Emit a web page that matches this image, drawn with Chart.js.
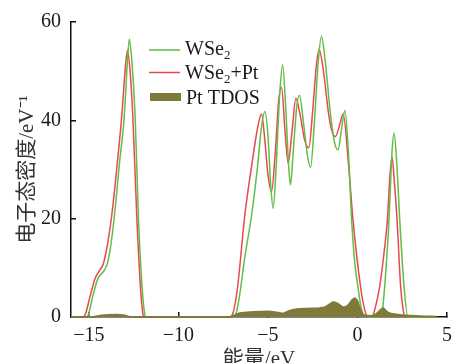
<!DOCTYPE html>
<html>
<head>
<meta charset="utf-8">
<script src="https://cdn.jsdelivr.net/npm/chart.js@4.4.0/dist/chart.umd.min.js"></script>
<style>
  html, body { margin: 0; padding: 0; background: #fff; }
  #wrap { width: 453px; height: 363px; }
</style>
</head>
<body>
<div id="wrap"><canvas id="dosChart" width="453" height="363"></canvas></div>
<script>
// energies (eV) and density of states
const wse2Energy = [-16, -15.2, -15.05, -14.8, -14.5, -14.2, -14.0, -13.8, -13.57, -13.3, -13.02, -12.85, -12.74, -12.6, -12.42, -12.24, -12.05, -11.9, -11.8,
  -7.0, -6.8, -6.6, -6.3, -5.91, -5.6, -5.35, -5.17, -5.0, -4.85, -4.71, -4.55, -4.35, -4.18, -4.0, -3.85, -3.74, -3.6, -3.4, -3.24, -3.0, -2.8, -2.62,
  -2.4, -2.2, -2.01, -1.8, -1.5, -1.25, -1.08, -0.9, -0.7, -0.5, -0.33, -0.15, 0.03, 0.2, 0.4,
  1.2, 1.35, 1.52, 1.76, 1.92, 2.04, 2.2, 2.36, 2.6, 2.82, 4.4];
const wse2Dos = [0, 0, 0.3, 4, 7.8, 9.2, 10.5, 14, 20.8, 31, 41.1, 52, 56.5, 52, 41, 20.8, 7.2, 1, 0,
  0, 0.5, 4, 12, 20.8, 30, 39, 41.8, 37, 27, 22.1, 30, 45, 51.3, 42, 31, 26.9, 33, 42.5, 45.1, 39, 33, 30.4,
  40, 51.5, 57.1, 52, 41, 35, 34.0, 38, 42.0, 33, 20, 11, 6, 2, 0,
  0, 0.5, 6.2, 19.8, 33, 37.4, 31, 19.8, 6.2, 0, 0];

const wse2PtEnergy = [-16, -15.35, -15.2, -14.95, -14.65, -14.4, -14.19, -13.95, -13.72, -13.45, -13.16, -12.98, -12.85, -12.7, -12.55, -12.33, -12.14, -12.0, -11.9,
  -7.15, -6.95, -6.7, -6.29, -5.9, -5.55, -5.36, -5.2, -5.0, -4.8, -4.6, -4.4, -4.24, -4.05, -3.87, -3.65, -3.44, -3.2, -2.95, -2.72,
  -2.5, -2.3, -2.14, -1.9, -1.6, -1.4, -1.23, -1.0, -0.8, -0.5, -0.25, 0.17, 0.4, 0.6,
  0.85, 1.0, 1.24, 1.45, 1.67, 1.82, 1.93, 2.05, 2.21, 2.41, 2.55, 2.65, 4.4];
const wse2PtDos = [0, 0, 0.5, 4, 7.9, 9.5, 10.9, 15, 20.8, 30, 41.1, 50, 54.2, 50, 41, 20.8, 7.2, 1, 0,
  0, 0.8, 6, 20.8, 31, 39, 41.3, 37, 29, 25.5, 33, 44, 46.7, 38, 31.3, 38, 44.5, 41, 36, 34.4,
  42, 51, 54.4, 50, 41, 37.5, 36.7, 39, 41.3, 31, 19.8, 6.2, 1.5, 0,
  0.3, 2, 6.2, 12, 19.8, 29, 32.6, 28, 19.8, 6.2, 1.5, 0, 0];

const ptEnergy = [-16, -14.8, -14.3, -13.5, -13.0, -12.7, -7.1, -6.9, -6.56, -5.82, -4.99, -4.5, -4.15, -3.9, -3.68, -2.84, -2.1, -1.8, -1.54, -1.35,
  -1.1, -0.8, -0.55, -0.3, -0.15, 0.0, 0.13, 0.3, 0.41, 0.78, 1.0, 1.15, 1.43, 1.6, 1.71, 2.17, 2.73, 3.5, 4.4];
const ptDos = [0, 0, 0.3, 0.45, 0.3, 0, 0, 0.3, 0.75, 1.0, 1.1, 0.9, 0.7, 1.1, 1.4, 1.7, 1.8, 2.0, 2.6, 3.0,
  2.7, 2.0, 2.3, 3.4, 3.8, 3.2, 1.8, 0.6, 0.3, 0.2, 0.5, 0.9, 1.8, 1.2, 0.9, 0.5, 0.3, 0.15, 0.05];

const xTicks = [-15, -10, -5, 0, 5];
const yTicks = [0, 20, 40, 60];
const legendLabels = ['WSe2', 'WSe2+Pt', 'Pt TDOS'];

const green = '#62bd45';
const red = '#e84850';
const olive = '#7f7a3a';
const serif = "'Liberation Serif', 'Times New Roman', 'Noto Sans CJK SC', serif";

const toPoints = (xs, ys) => xs.map((x, i) => ({ x: x, y: ys[i] }));

// legend drawn inside the plot, with subscript 2
const dosLegend = {
  id: 'dosLegend',
  afterDraw(chart) {
    const ctx = chart.ctx;
    ctx.save();
    ctx.textBaseline = 'alphabetic';
    ctx.fillStyle = '#1a1a1a';

    const writeLabel = (label, x, y) => {
      let cx = x;
      const m = label.match(/^(WSe)2(.*)$/);
      if (m) {
        ctx.font = '20px ' + serif;
        ctx.fillText(m[1], cx, y);
        cx += ctx.measureText(m[1]).width;
        ctx.font = '13px ' + serif;
        ctx.fillText('2', cx, y + 4);
        cx += ctx.measureText('2').width;
        ctx.font = '20px ' + serif;
        ctx.fillText(m[2], cx, y);
      } else {
        ctx.font = '20px ' + serif;
        ctx.fillText(label, cx, y);
      }
    };

    ctx.lineWidth = 1.5;
    ctx.strokeStyle = green;
    ctx.beginPath(); ctx.moveTo(149, 50); ctx.lineTo(180, 50); ctx.stroke();
    writeLabel(legendLabels[0], 185, 55);

    ctx.strokeStyle = red;
    ctx.beginPath(); ctx.moveTo(149, 72.5); ctx.lineTo(180, 72.5); ctx.stroke();
    writeLabel(legendLabels[1], 185, 79);

    ctx.fillStyle = olive;
    ctx.fillRect(150, 93, 31, 8);
    ctx.fillStyle = '#1a1a1a';
    writeLabel(legendLabels[2], 186, 104);
    ctx.restore();
  }
};

new Chart(document.getElementById('dosChart'), {
  type: 'line',
  data: {
    datasets: [
      {
        label: legendLabels[0],
        data: toPoints(wse2Energy, wse2Dos),
        borderColor: green,
        borderWidth: 1.5,
        pointRadius: 0,
        cubicInterpolationMode: 'monotone',
        fill: false,
        clip: false,
        order: 1
      },
      {
        label: legendLabels[1],
        data: toPoints(wse2PtEnergy, wse2PtDos),
        borderColor: red,
        borderWidth: 1.5,
        pointRadius: 0,
        cubicInterpolationMode: 'monotone',
        fill: false,
        clip: false,
        order: 2
      },
      {
        label: legendLabels[2],
        data: toPoints(ptEnergy, ptDos),
        borderColor: olive,
        backgroundColor: olive,
        borderWidth: 2,
        pointRadius: 0,
        cubicInterpolationMode: 'monotone',
        fill: 'origin',
        clip: false,
        order: 0
      }
    ]
  },
  options: {
    responsive: false,
    animation: false,
    devicePixelRatio: 1,
    layout: { padding: { top: 22, right: 6, left: 0, bottom: 0 } },
    plugins: {
      legend: { display: false },
      tooltip: { enabled: false }
    },
    scales: {
      x: {
        type: 'linear',
        min: -16,
        max: 5,
        afterBuildTicks: (scale) => { scale.ticks = xTicks.map(v => ({ value: v })); },
        afterFit: (scale) => { scale.height = 46; scale.paddingLeft = 0; scale.paddingRight = 0; },
        border: { color: '#111', width: 1.5 },
        grid: { drawOnChartArea: false, tickLength: -5, color: '#111', lineWidth: 1.5 },
        ticks: {
          padding: 12,
          color: '#1a1a1a',
          font: { family: serif, size: 20 },
          maxRotation: 0,
          callback: (v) => String(v).replace('-', '\u2212')
        },
        title: {
          display: true,
          text: '能量/eV',
          color: '#333',
          font: { family: serif, size: 21 },
          padding: { top: 0, bottom: -9 }
        }
      },
      y: {
        min: 0,
        max: 60,
        afterBuildTicks: (scale) => { scale.ticks = yTicks.map(v => ({ value: v })); },
        afterFit: (scale) => { scale.width = 71; scale.paddingTop = 0; scale.paddingBottom = 0; },
        border: { color: '#111', width: 1.5 },
        grid: { drawOnChartArea: false, tickLength: -5, color: '#111', lineWidth: 1.5 },
        ticks: {
          padding: 15,
          color: '#1a1a1a',
          font: { family: serif, size: 20 }
        },
        title: {
          display: true,
          text: '电子态密度/eV\u207B\u00B9',
          color: '#333',
          font: { family: serif, size: 21 },
          padding: { top: 15, bottom: 0 }
        }
      }
    }
  },
  plugins: [dosLegend]
});
</script>
</body>
</html>
